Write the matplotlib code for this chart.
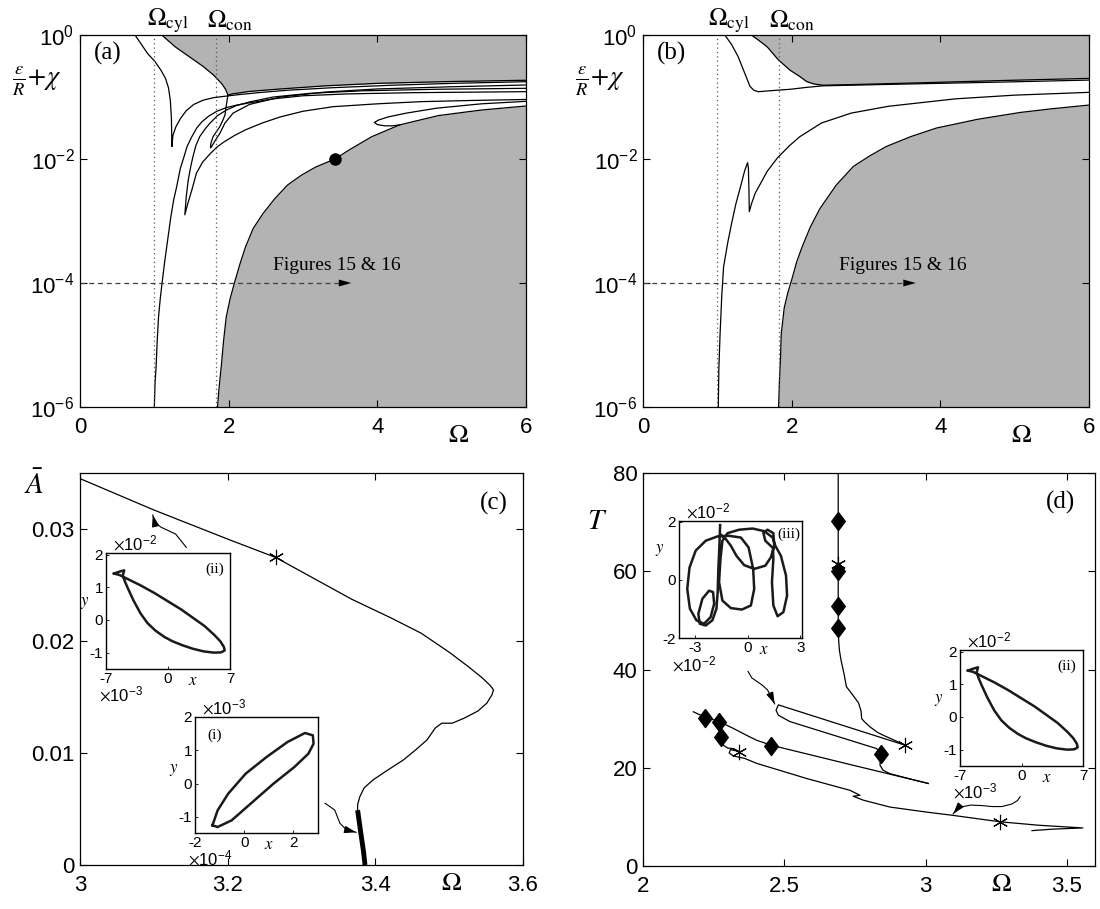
import numpy as np
import matplotlib
matplotlib.use('Agg')
import matplotlib.pyplot as plt
from matplotlib.ticker import NullLocator

plt.rcParams['font.family'] = ['Liberation Sans', 'DejaVu Sans']
plt.rcParams['mathtext.fontset'] = 'stix'
plt.rcParams['axes.unicode_minus'] = False
plt.rcParams['axes.linewidth'] = 0.9

######################################################################
# Data
# panels (a),(b): Omega and log10(eps/R + chi)

om_cyl = 1.0
om_con = 1.83
fig_arrow_y = 1e-4
fig_arrow_end_a = 3.63
fig_arrow_end_b = 3.65
dot_a = (3.43, -2.0)

# (a) upper grey region boundary
a_up_om = [1.10, 1.28, 1.47, 1.66, 1.80, 1.91, 1.96, 1.99, 2.05, 2.28, 2.7, 3.3, 4.0, 5.0, 6.0]
a_up_lg = [0.0, -0.19, -0.35, -0.51, -0.65, -0.79, -0.88, -0.97, -0.95, -0.91, -0.87, -0.82, -0.78, -0.75, -0.73]
# (a) lower grey region boundary
a_lo_om = [1.85, 1.87, 1.90, 1.93, 1.967, 2.02, 2.075, 2.15, 2.226, 2.33, 2.462, 2.62, 2.792,
           2.98, 3.17, 3.43, 3.64, 3.925, 4.3, 4.82, 5.4, 6.0]
a_lo_lg = [-6.0, -5.7, -5.35, -4.95, -4.55, -4.25, -4.01, -3.7, -3.42, -3.12, -2.88, -2.64, -2.42,
           -2.26, -2.13, -2.0, -1.84, -1.64, -1.45, -1.30, -1.21, -1.145]
# (a) curve from the top left, cusp near 1.24
a_c1_om = [0.74, 0.91, 1.01, 1.09, 1.15, 1.19, 1.215, 1.23, 1.236, 1.25, 1.29, 1.35, 1.43, 1.53,
           1.66, 1.80, 1.97, 2.15, 2.4, 2.8, 3.4, 4.2, 5.0, 6.0]
a_c1_lg = [0.0, -0.30, -0.43, -0.57, -0.70, -0.85, -1.05, -1.35, -1.80, -1.62, -1.48, -1.35, -1.22, -1.12,
           -1.05, -1.01, -0.985, -0.96, -0.93, -0.89, -0.85, -0.81, -0.78, -0.753]
# (a) narrow loop under the nose of the grey region
a_c2_om = [1.99, 1.97, 1.95, 1.92, 1.88, 1.83, 1.79, 1.76, 1.755, 1.765, 1.79, 1.83, 1.88, 1.95,
           2.06, 2.28, 2.7, 3.3, 4.0, 5.0, 6.0]
a_c2_lg = [-0.97, -1.12, -1.29, -1.38, -1.48, -1.57, -1.64, -1.75, -1.82, -1.81, -1.76, -1.68, -1.59, -1.42,
           -1.26, -1.12, -1.0, -0.92, -0.87, -0.835, -0.806]
# (a) curve with the cusp near 1.41
a_c3_om = [6.0, 4.8, 3.8, 3.1, 2.6, 2.28, 2.1, 1.97, 1.85, 1.75, 1.68, 1.61, 1.56, 1.52, 1.49, 1.456, 1.43,
           1.41, 1.45, 1.50, 1.566, 1.65, 1.755, 1.85, 1.943, 2.08, 2.226, 2.45, 2.698, 3.0, 3.406,
           4.0, 4.585, 5.3, 6.0]
a_c3_lg = [-0.86, -0.875, -0.90, -0.94, -1.0, -1.08, -1.14, -1.21, -1.30, -1.42, -1.52, -1.64, -1.78, -1.96,
           -2.12, -2.34, -2.6, -2.90, -2.72, -2.52, -2.23, -2.05, -1.91, -1.80, -1.72, -1.62, -1.53, -1.42,
           -1.32, -1.23, -1.156, -1.11, -1.075, -1.055, -1.04]
# (a) curve rising from Omega_cyl
a_c4_om = [1.0, 1.01, 1.024, 1.04, 1.057, 1.08, 1.104, 1.14, 1.18, 1.22, 1.26, 1.30, 1.35, 1.39, 1.44,
           1.50, 1.57, 1.64, 1.73, 1.84, 1.97, 2.11, 2.3, 2.6, 3.0, 3.6, 4.5, 6.0]
a_c4_lg = [-6.0, -5.6, -5.35, -4.9, -4.54, -4.25, -4.0, -3.65, -3.3, -2.95, -2.66, -2.45, -2.15, -2.0, -1.80,
           -1.65, -1.50, -1.40, -1.31, -1.23, -1.17, -1.13, -1.09, -1.03, -0.98, -0.95, -0.93, -0.914]
# (a) loop on the lower boundary
a_loop_om = [6.0, 5.4, 4.8, 4.39, 4.15, 4.02, 3.96, 4.0, 4.1, 4.2, 4.3]
a_loop_lg = [-1.07, -1.11, -1.18, -1.26, -1.32, -1.37, -1.41, -1.445, -1.465, -1.465, -1.45]

# (b) grey boundaries and curves
b_up_om = [1.46, 1.55, 1.67, 1.82, 1.975, 2.11, 2.2, 2.3, 2.42, 2.8, 3.77, 4.8, 6.0]
b_up_lg = [0.0, -0.08, -0.19, -0.40, -0.565, -0.67, -0.75, -0.79, -0.81, -0.80, -0.77, -0.735, -0.70]
b_lo_om = [1.824, 1.835, 1.85, 1.86, 1.9, 1.95, 2.0, 2.07, 2.14, 2.25, 2.38, 2.6, 2.83, 3.05, 3.27,
           3.6, 3.95, 4.5, 5.07, 5.5, 6.0]
b_lo_lg = [-6.0, -5.6, -5.2, -4.82, -4.4, -4.15, -3.95, -3.65, -3.42, -3.1, -2.80, -2.42, -2.12, -1.95, -1.80,
           -1.64, -1.50, -1.36, -1.25, -1.19, -1.13]
b_c2_om = [1.10, 1.19, 1.28, 1.37, 1.44, 1.49, 1.55, 1.65, 1.81, 1.975, 2.2, 2.42, 2.8, 3.77, 4.8, 6.0]
b_c2_lg = [0.0, -0.15, -0.35, -0.62, -0.83, -0.89, -0.915, -0.905, -0.89, -0.876, -0.845, -0.82, -0.81,
           -0.785, -0.76, -0.727]
b_c3_om = [1.013, 1.02, 1.037, 1.06, 1.084, 1.14, 1.19, 1.25, 1.30, 1.37, 1.407, 1.418, 1.425, 1.430,
           1.46, 1.51, 1.57, 1.67, 1.81, 1.975, 2.11, 2.4, 2.8, 3.3, 4.2, 5.0, 6.0]
b_c3_lg = [-6.0, -5.4, -4.82, -4.2, -3.74, -3.35, -3.05, -2.72, -2.5, -2.18, -2.06, -2.15, -2.5, -2.85,
           -2.72, -2.55, -2.42, -2.2, -1.98, -1.78, -1.64, -1.42, -1.26, -1.15, -1.03, -0.97, -0.925]

# (c) mean amplitude vs Omega
c_om = [3.0, 3.1, 3.2, 3.265, 3.368, 3.42, 3.462, 3.50, 3.525, 3.545, 3.556, 3.560, 3.558, 3.551, 3.539,
        3.52, 3.504, 3.495, 3.490, 3.481, 3.470, 3.455, 3.438, 3.415, 3.397, 3.385, 3.379, 3.376, 3.376]
c_A = [0.0345, 0.0317, 0.0291, 0.02746, 0.02373, 0.0221, 0.0207, 0.0190, 0.01776, 0.0167, 0.0160, 0.01564,
       0.0152, 0.01445, 0.01375, 0.0131, 0.01266, 0.01266, 0.01266, 0.01222, 0.01117, 0.0103, 0.00938,
       0.0084, 0.0076, 0.0069, 0.0061, 0.0054, 0.0049]
c_thick_om = [3.376, 3.380, 3.384, 3.386]
c_thick_A = [0.0049, 0.0030, 0.0012, 0.0]
c_star = (3.265, 0.02746)
c_arrow_ii_om = [3.144, 3.1295, 3.110, 3.101, 3.0986]
c_arrow_ii_A = [0.02836, 0.02955, 0.03015, 0.0306, 0.03125]
c_arrow_i_om = [3.332, 3.345, 3.352, 3.361, 3.374]
c_arrow_i_A = [0.00551, 0.00491, 0.00373, 0.00313, 0.00292]

# (d) period vs Omega
d_vert_om = [2.691, 2.691, 2.691, 2.691, 2.691, 2.695, 2.701, 2.712, 2.72, 2.74, 2.763, 2.772, 2.774,
             2.785, 2.804, 2.83, 2.851, 2.89, 2.927]
d_vert_T = [80, 70.3, 60, 53, 47.4, 44, 41.9, 39, 36.5, 35, 33.2, 31.5, 30, 29.3, 28.3, 27.2, 26.6, 25.6, 24.6]
d_loop_om = [2.927, 2.479, 2.471, 2.479, 2.52, 2.827, 2.841, 2.839, 2.85, 2.874, 2.94, 3.01]
d_loop_T = [24.6, 32.8, 31.7, 30.7, 29.4, 23.9, 22.8, 20.5, 19.5, 18.8, 17.8, 16.8]
d_brA_om = [2.178, 2.219, 2.27, 2.32, 2.36, 2.402, 2.453, 2.73, 3.01]
d_brA_T = [31.4, 30.3, 29.4, 28.0, 26.8, 25.6, 24.6, 20.7, 16.8]
d_brB_om = [2.27, 2.272, 2.275, 2.284, 2.30, 2.32, 2.341, 2.31, 2.305, 2.32, 2.36, 2.402, 2.58, 2.733,
            2.768, 2.744, 2.78, 2.874, 3.0, 3.098, 3.264, 3.40, 3.557, 3.45, 3.377]
d_brB_T = [29.4, 27.8, 26.3, 24.6, 24.0, 23.9, 23.3, 23.7, 23.0, 22.4, 21.9, 20.9, 17.8, 15.4,
           14.4, 14.2, 13.4, 12.0, 11.0, 10.3, 9.0, 8.3, 7.75, 7.5, 7.2]
d_diam_om = [2.691, 2.691, 2.691, 2.691, 2.219, 2.27, 2.275, 2.453, 2.842]
d_diam_T = [70.3, 60.1, 53.0, 48.5, 30.2, 29.3, 26.3, 24.5, 22.8]
d_star_om = [2.927, 2.341, 3.264, 2.691]
d_star_T = [24.6, 23.3, 9.0, 61.5]
d_arrow_iii_om = [2.372, 2.385, 2.40, 2.42, 2.44, 2.455, 2.466]
d_arrow_iii_T = [39.6, 38.3, 37.7, 36.9, 35.9, 34.4, 33.0]
d_arrow_ii_om = [3.335, 3.325, 3.305, 3.27, 3.235, 3.2, 3.16, 3.125, 3.108, 3.098]
d_arrow_ii_T = [14.1, 13.3, 12.6, 12.1, 12.1, 12.3, 12.4, 12.0, 11.3, 10.6]

# inset orbits (x, y)
orb_i_x = [-1.29, -1.08, -0.65, 0.06, 0.91, 1.76, 2.47, 2.79, 2.82, 2.61, 2.04, 1.19, 0.34, -0.51, -1.08, -1.29]
orb_i_y = [-1.25, -0.8, -0.3, 0.3, 0.8, 1.25, 1.52, 1.45, 1.2, 0.9, 0.5, 0.0, -0.55, -1.1, -1.3, -1.25]
orb_ii_x = [-6.1, -5.5, -4.3, -3.1, -1.5, 0.0, 1.5, 2.8, 4.1, 5.2, 5.9, 6.3, 6.4, 6.0, 5.2, 4.0, 2.8,
            1.6, 0.5, -0.4, -1.4, -2.3, -3.1, -3.9, -4.5, -4.9, -5.1, -4.95, -5.6, -6.1]
orb_ii_y = [1.42, 1.38, 1.22, 1.06, 0.82, 0.57, 0.32, 0.07, -0.18, -0.45, -0.65, -0.82, -0.93, -0.99,
            -1.0, -0.96, -0.88, -0.77, -0.65, -0.52, -0.33, -0.1, 0.2, 0.6, 0.95, 1.2, 1.36, 1.52, 1.47, 1.42]
orb_iii_x = [-1.56, -1.60, -1.66, -1.70, -1.77, -2.0, -2.38, -2.72, -2.80, -2.57, -2.19, -1.96, -1.90,
             -2.10, -2.48, -2.91, -3.28, -3.43, -3.30, -2.95, -2.38, -1.71, -1.05, -0.38, 0.06, 0.32,
             0.38, 0.19, -0.32, -0.95, -1.43, -1.62, -1.54, -1.43, -1.14, -0.48, 0.29, 0.95, 1.43, 1.58,
             1.90, 2.19, 2.25, 2.04, 1.71, 1.47, 1.39, 1.47, 1.45, 1.01, 0.90, 1.14, 1.47, 1.52, 1.33,
             1.01, 0.38, -0.19, -0.63, -0.95, -1.24, -1.5]
orb_iii_y = [1.89, 1.18, 0.38, -0.42, -0.99, -1.39, -1.57, -1.51, -1.17, -0.65, -0.37, -0.42, -0.82,
             -1.28, -1.51, -1.39, -0.99, -0.31, 0.43, 1.01, 1.35, 1.50, 1.52, 1.46, 1.12, 0.38,
             -0.31, -0.88, -1.02, -0.97, -0.71, -0.08, 0.72, 1.35, 1.61, 1.73, 1.77, 1.68, 1.46, 1.18,
             0.83, 0.15, -0.54, -1.11, -1.25, -0.88, -0.08, 0.72, 1.10, 1.35, 1.63, 1.73, 1.61, 1.18, 0.78,
             0.49, 0.38, 0.51, 0.83, 1.18, 1.41, 1.55]

######################################################################

W, H = 1100, 909
fig = plt.figure(figsize=(W / 100, H / 100), dpi=100)


def px_axes(left, top, right, bottom):
    # pixel box -> figure fraction
    return fig.add_axes([left / W, 1 - bottom / H, (right - left) / W, (bottom - top) / H])


def style(ax):
    ax.tick_params(direction='in', top=True, right=True, length=5, width=0.8, labelsize=16)
    ax.tick_params(axis='x', pad=7)
    ax.tick_params(axis='y', pad=4)


def black(ax, x, y, lw=0.9):
    ax.plot(x, y, color='k', lw=lw, solid_joinstyle='round')


def curved_arrow(ax, x, y):
    ax.plot(x, y, color='k', lw=0.8)
    ax.annotate('', xy=(x[-1], y[-1]), xytext=(x[-2], y[-2]),
                arrowprops=dict(arrowstyle='-|>,head_length=0.7,head_width=0.22', color='k', lw=0.8,
                                shrinkA=0, shrinkB=0))


grey = '#b3b3b3'
star = (6, 2, 0)
diamond = [(0, 1), (0.75, 0), (0, -1), (-0.75, 0), (0, 1)]


def log_panel(ax, up_om, up_lg, lo_om, lo_lg, curves, tag, arrow_end, txt_x, omc_pos):
    up_val = 10.0 ** np.array(up_lg)
    lo_val = 10.0 ** np.array(lo_lg)
    ax.fill_between(up_om, up_val, 1.0, color=grey, lw=0)
    ax.fill_between(lo_om, 1e-6, lo_val, color=grey, lw=0)
    black(ax, up_om, up_val)
    black(ax, lo_om, lo_val)
    for om, lg in curves:
        black(ax, om, 10.0 ** np.array(lg))
    for o in (om_cyl, om_con):
        ax.axvline(o, color='0.35', ls=(0, (1, 2.5)), lw=0.9)
    ax.plot([0, arrow_end], [fig_arrow_y, fig_arrow_y], color='0.25', ls=(0, (4, 3)), lw=0.9)
    ax.annotate('', xy=(arrow_end + 0.02, fig_arrow_y), xytext=(arrow_end - 0.2, fig_arrow_y),
                arrowprops=dict(arrowstyle='-|>,head_length=0.9,head_width=0.25', color='k', lw=0,
                                shrinkA=0, shrinkB=0))
    ax.text(txt_x, 10 ** -3.71, 'Figures 15 & 16', family='Liberation Serif', fontsize=14,
            ha='center', va='center')
    ax.set_yscale('log')
    ax.set_xlim(0, 6)
    ax.set_ylim(1e-6, 1)
    ax.set_xticks([0, 2, 4, 6])
    ax.set_yticks([1e-6, 1e-4, 1e-2, 1])
    ax.yaxis.set_minor_locator(NullLocator())
    style(ax)
    ax.text(0.063, 0.95, tag, transform=ax.transAxes, family='Liberation Serif', fontsize=18,
            ha='center', va='center')
    ax.text(0.848, -0.075, r'$\Omega$', transform=ax.transAxes, fontsize=19, ha='center', va='center')
    ax.text(-0.098, 0.874, r'$\frac{\epsilon}{R}\!+\!\chi$', transform=ax.transAxes, fontsize=19,
            ha='center', va='center')
    tr = ax.get_xaxis_transform()
    ax.text(omc_pos[0], 1.038, r'$\Omega_{\rm cyl}$', transform=tr, fontsize=18, ha='center', va='center')
    ax.text(omc_pos[1], 1.038, r'$\Omega_{\rm con}$', transform=tr, fontsize=18, ha='center', va='center')


# panel (a)
ax_a = px_axes(80, 35, 526, 407)
log_panel(ax_a, a_up_om, a_up_lg, a_lo_om, a_lo_lg,
          [(a_c1_om, a_c1_lg), (a_c2_om, a_c2_lg), (a_c3_om, a_c3_lg), (a_c4_om, a_c4_lg),
           (a_loop_om, a_loop_lg)],
          '(a)', fig_arrow_end_a, 3.45, (1.18, 2.02))
ax_a.plot(dot_a[0], 10 ** dot_a[1], 'o', color='k', ms=8)

# panel (b)
ax_b = px_axes(643, 35, 1089, 407)
log_panel(ax_b, b_up_om, b_up_lg, b_lo_om, b_lo_lg,
          [(b_c2_om, b_c2_lg), (b_c3_om, b_c3_lg)],
          '(b)', fig_arrow_end_b, 3.49, (1.16, 2.01))

# panel (c)
ax_c = px_axes(80, 473, 523, 865)
black(ax_c, c_om, c_A)
ax_c.plot(c_thick_om, c_thick_A, color='k', lw=3.5, solid_capstyle='butt')
ax_c.plot(*c_star, marker=star, color='k', ms=11, mew=0.8)
curved_arrow(ax_c, c_arrow_ii_om, c_arrow_ii_A)
curved_arrow(ax_c, c_arrow_i_om, c_arrow_i_A)
ax_c.set_xlim(3, 3.6)
ax_c.set_ylim(0, 0.035)
ax_c.set_xticks([3, 3.2, 3.4, 3.6])
ax_c.set_xticklabels(['3', '3.2', '3.4', '3.6'])
ax_c.set_yticks([0, 0.01, 0.02, 0.03])
ax_c.set_yticklabels(['0', '0.01', '0.02', '0.03'])
style(ax_c)
ax_c.text(0.933, 0.923, '(c)', transform=ax_c.transAxes, family='Liberation Serif', fontsize=18,
          ha='center', va='center')
ax_c.text(0.838, -0.045, r'$\Omega$', transform=ax_c.transAxes, fontsize=19, ha='center', va='center')
ax_c.text(-0.105, 0.97, r'$\bar{A}$', transform=ax_c.transAxes, fontsize=21, ha='center', va='center')

# panel (d)
ax_d = px_axes(643, 473, 1095, 866)
black(ax_d, d_vert_om, d_vert_T)
black(ax_d, d_loop_om, d_loop_T)
black(ax_d, d_brA_om, d_brA_T)
black(ax_d, d_brB_om, d_brB_T)
ax_d.plot(d_diam_om, d_diam_T, ls='none', marker=diamond, color='k', ms=13)
ax_d.plot(d_star_om, d_star_T, ls='none', marker=star, color='k', ms=11, mew=0.8)
curved_arrow(ax_d, d_arrow_iii_om, d_arrow_iii_T)
curved_arrow(ax_d, d_arrow_ii_om, d_arrow_ii_T)
ax_d.set_xlim(2, 3.6)
ax_d.set_ylim(0, 80)
ax_d.set_xticks([2, 2.5, 3, 3.5])
ax_d.set_xticklabels(['2', '2.5', '3', '3.5'])
ax_d.set_yticks([0, 20, 40, 60, 80])
style(ax_d)
ax_d.text(0.924, 0.924, '(d)', transform=ax_d.transAxes, family='Liberation Serif', fontsize=18,
          ha='center', va='center')
ax_d.text(0.792, -0.045, r'$\Omega$', transform=ax_d.transAxes, fontsize=19, ha='center', va='center')
ax_d.text(-0.101, 0.877, r'$T$', transform=ax_d.transAxes, fontsize=21, ha='center', va='center')


def inset(box, xs, ys, xlim, ylim, xt, yt, exp_top, exp_bot, tag, tag_pos, xlab_x, ylab_pos):
    ax = px_axes(*box)
    ax.plot(xs, ys, color='0.1', lw=1.8)
    ax.set_xlim(*xlim)
    ax.set_ylim(*ylim)
    ax.set_xticks(xt)
    ax.set_xticklabels([str(v) for v in xt])
    ax.set_yticks(yt)
    ax.set_yticklabels([str(v) for v in yt])
    ax.tick_params(direction='in', length=2, width=0.6, labelsize=11, pad=2)
    for s in ax.spines.values():
        s.set_linewidth(1.0)
    ax.text(0.06, 1.0, r'$\times\mathdefault{10^{%d}}$' % exp_top, transform=ax.transAxes, fontsize=12,
            ha='left', va='bottom')
    ax.text(-0.06, -0.135, r'$\times\mathdefault{10^{%d}}$' % exp_bot, transform=ax.transAxes, fontsize=12,
            ha='left', va='top')
    ax.text(tag_pos[0], tag_pos[1], tag, transform=ax.transAxes, family='Liberation Serif', fontsize=11,
            ha='center', va='center')
    ax.text(xlab_x, -0.1, r'$x$', transform=ax.transAxes, fontsize=12, ha='center', va='center')
    ax.text(ylab_pos[0], ylab_pos[1], r'$y$', transform=ax.transAxes, fontsize=12, ha='center', va='center')
    return ax


inset((106, 553, 230, 669), orb_ii_x, orb_ii_y, (-7, 7), (-1.5, 2.05), [-7, 0, 7], [-1, 0, 1, 2],
      -2, -3, '(ii)', (0.88, 0.86), 0.70, (-0.17, 0.57))
inset((195, 717, 318, 833), orb_i_x, orb_i_y, (-2, 3), (-1.48, 2.0), [-2, 0, 2], [-1, 0, 1, 2],
      -3, -4, '(i)', (0.16, 0.84), 0.60, (-0.17, 0.54))
inset((679, 521, 802, 638), orb_iii_x, orb_iii_y, (-3.9, 3.1), (-2, 2.03), [-3, 0, 3], [-2, 0, 2],
      -2, -2, '(iii)', (0.89, 0.89), 0.69, (-0.16, 0.75))
inset((960, 650, 1083, 766), orb_ii_x, orb_ii_y, (-7, 7), (-1.5, 2.05), [-7, 0, 7], [-1, 0, 1, 2],
      -2, -3, '(ii)', (0.87, 0.86), 0.71, (-0.17, 0.57))

plt.savefig('out.png', dpi=100)
